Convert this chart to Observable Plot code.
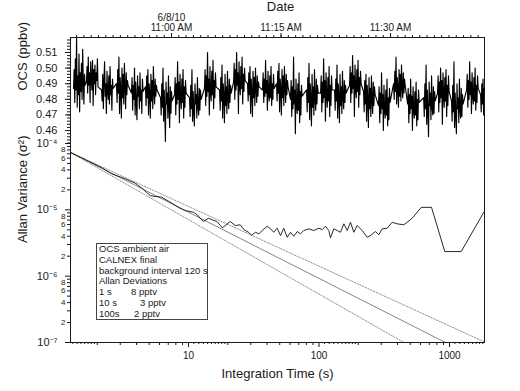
<!DOCTYPE html>
<html><head><meta charset="utf-8">
<script src="https://cdn.jsdelivr.net/npm/d3@7"></script>
<script src="https://cdn.jsdelivr.net/npm/@observablehq/plot@0.6"></script>
<style>
html,body{margin:0;padding:0;background:#fff;}
#wrap{position:relative;width:520px;height:391px;overflow:hidden;font-family:"Liberation Sans",Arial,Helvetica,sans-serif;}
#wrap svg{position:absolute;left:0;top:0;}
#legend{position:absolute;left:96px;top:243px;width:108px;height:75px;border:1px solid #444;background:#fff;color:#1a1a1a;font-size:9.5px;line-height:10.8px;padding:0 0 0 2px;white-space:nowrap;z-index:3;}
#legend span{display:inline-block;}
</style></head>
<body><div id="wrap"><div id="legend"></div></div>
<script>
// ---------- DATA ----------
// Top panel: OCS mixing ratio (pptv), blocks of ambient samples separated by background measurements
const timeRange = ["10:46:10", "11:42:52"];
const timeTickLabels = ["11:00", "11:15", "11:30"];
const dateLabel = "6/8/10";
const sampleSeconds = 5;
const blockStarts = ["10:46:35","10:48:21","10:50:25","10:52:28","10:54:31","10:56:26","10:58:30","11:00:25","11:02:28","11:04:31","11:06:35","11:08:30","11:10:25","11:12:28","11:14:23","11:16:18","11:18:30","11:20:25","11:22:20","11:24:23","11:26:18","11:28:21","11:30:25","11:32:20","11:34:32","11:36:26","11:38:21","11:40:25","11:42:20"];
const blockValues = [
 [487,499,478,506,486,520,475,495,483,509,472,497,485,503,480,512,491,477,496,489],
 [491,501,484,507,489,497,478,504,493,486,505,476,499,490,502,483,497,492,506,488],
 [486,479,496,474,492,504,482,490,471,498,485,480,495,477,501,483,489,473,493,487],
 [490,478,499,484,507,471,494,486,468,500,481,496,477,503,488,474,497,483,492,489],
 [484,494,473,489,480,500,470,491,478,467,495,482,488,474,497,479,486,471,493,485],
 [488,476,495,481,499,470,490,484,468,496,479,492,474,501,485,477,493,482,489,486],
 [481,470,490,475,500,466,486,472,453,491,477,484,468,495,474,462,488,471,485,479],
 [483,494,470,490,477,504,480,491,465,496,481,474,493,478,499,468,488,475,492,484],
 [481,469,489,474,499,466,485,472,463,490,477,483,468,494,475,470,487,473,486,480],
 [487,499,476,495,482,510,485,493,470,501,484,479,498,483,505,474,492,481,497,488],
 [486,473,494,479,502,468,490,482,465,496,476,488,471,498,480,474,493,478,489,484],
 [491,503,480,499,486,510,489,497,471,504,488,483,501,487,507,477,496,485,500,492],
 [490,479,497,483,501,471,493,485,469,498,481,494,476,500,486,478,495,482,491,488],
 [486,497,478,493,482,505,484,492,473,498,483,479,495,481,501,476,490,480,496,487],
 [490,479,498,484,503,472,493,486,470,499,481,495,476,501,487,478,496,483,492,488],
 [480,492,469,488,474,507,477,486,458,493,476,471,490,473,497,465,485,470,489,482],
 [486,472,494,478,503,467,490,481,463,496,475,488,470,499,480,473,493,477,489,484],
 [484,495,472,491,478,506,481,492,466,497,482,475,494,479,501,469,489,476,495,486],
 [486,473,493,479,502,468,490,482,465,496,476,488,471,498,481,474,492,478,489,484],
 [489,501,478,497,484,508,487,495,469,502,486,481,499,485,505,475,494,483,498,490],
 [485,472,492,477,496,466,489,480,462,494,474,487,469,495,479,471,491,476,488,483],
 [476,488,465,484,471,497,474,483,460,489,473,468,486,470,493,463,481,467,487,478],
 [490,480,498,485,507,477,494,487,475,499,482,496,479,502,488,481,497,484,493,489],
 [477,487,465,483,471,493,474,482,460,488,473,468,485,470,491,463,480,467,486,478],
 [481,469,490,474,502,464,486,472,456,491,476,484,467,495,475,470,488,471,485,479],
 [484,495,472,491,478,500,481,492,464,497,482,475,494,479,499,469,489,476,495,485],
 [479,466,489,472,504,462,484,470,458,490,474,481,465,493,473,468,487,469,483,477],
 [486,496,475,492,480,504,483,491,471,497,482,477,494,479,500,473,489,478,495,487],
 [483,472,490,477,493,470,487,479,468,491,475,485,473,489,480,478]
];
const ocsDomain = [0.4517, 0.5196];
const ocsTicks = [0.46, 0.47, 0.48, 0.49, 0.50, 0.51];

// Bottom panel: Allan variance (ppbv^2) vs integration time (s)
const tau = [1.25,1.71,2.17,2.58,3.27,3.91,4.39,5.09,5.56,6.24,7.03,8.38,9.44,10.9,11.6,13.0,14.2,16.5,18.2,20.9,22.8,24.9,26.7,28.8,30.5,32.6,34.6,36.7,40.1,42.5,45.0,47.8,50.7,53.7,57.0,60.5,64.1,68.1,72.2,76.5,83.5,91.2,99.7,105.8,112.2,118.9,122.5,129.9,137.9,146.2,155,164.5,174.3,184.8,196.2,214.3,234,248,271,287,305,333,364,397,447,518,607,728,920,1229,1832];
const allanVar = [7.32e-5,5.41e-5,4.30e-5,3.49e-5,2.94e-5,2.52e-5,2.12e-5,1.64e-5,1.59e-5,1.55e-5,1.35e-5,1.09e-5,9.76e-6,9.2e-6,8.49e-6,6.66e-6,7.47e-6,6.66e-6,5.35e-6,6.66e-6,5.80e-6,5.94e-6,4.99e-6,4.59e-6,4.15e-6,4.59e-6,4.35e-6,4.88e-6,5.66e-6,5.17e-6,4.59e-6,5.28e-6,4.10e-6,5.28e-6,3.86e-6,4.59e-6,4.00e-6,4.71e-6,4.35e-6,4.88e-6,5.17e-6,4.88e-6,5.28e-6,5.04e-6,5.66e-6,4.88e-6,3.78e-6,5.17e-6,4.88e-6,4.59e-6,6.15e-6,4.88e-6,6.50e-6,4.59e-6,5.80e-6,4.88e-6,3.86e-6,4.10e-6,4.71e-6,4.20e-6,5.17e-6,5.28e-6,6.50e-6,6.15e-6,5.94e-6,7.47e-6,1.09e-5,1.09e-5,2.35e-6,2.35e-6,9.2e-6];
const whiteNoiseTau = [1.25, 931];
const whiteNoiseVar = [7.32e-5, 1.0e-7];
const upperBoundTau = [1.25, 1832];
const upperBoundVar = [7.32e-5, 1.03e-7];
const lowerBoundTau = [1.25, 447];
const lowerBoundVar = [7.32e-5, 1.0e-7];
const tauDomain = [1.247, 1854];
const varDomain = [1e-7, 1e-4];
const tauMajorTicks = [10, 100, 1000];
const varMajorTicks = [1e-7, 1e-6, 1e-5, 1e-4];
const decadeMultipliersLabeled = [2, 4, 6, 8];
const decadeMultipliersPlain = [3, 5, 7, 9];

const axisTitles = {date: "Date", ocs: "OCS (ppbv)", allan: "Allan Variance (σ²)", tau: "Integration Time (s)"};
const legendLines = ["OCS ambient air", "CALNEX final", "background interval 120 s", "Allan Deviations"];
const legendRows = [["1 s", "8 pptv"], ["10 s", "3 pptv"], ["100s", "2 pptv"]];
const legendColWidths = [32, 41, 35];

// ---------- BUILD ----------
const FONT = '"Liberation Sans", Arial, Helvetica, sans-serif';
const parseClock = s => { const [h, m, sec] = s.split(":").map(Number); return new Date(2010, 5, 8, h, m, sec); };
const ocsData = blockStarts.flatMap((s, i) => {
  const t0 = +parseClock(s);
  return blockValues[i].map((v, k) => ({t: new Date(t0 + k * sampleSeconds * 1000), v: v / 1000}));
});
const timeDomain = timeRange.map(parseClock);
const majorTimes = timeTickLabels.map(s => parseClock(s + ":00"));
const minuteTicks = d3.timeMinute.range(timeDomain[0], timeDomain[1]);
const fmtTime = (d, i) => {
  const h = d.getHours(), m = d.getMinutes();
  const s = `${h % 12 || 12}:${String(m).padStart(2, "0")} ${h < 12 ? "AM" : "PM"}`;
  return i === 0 ? dateLabel + "\n" + s : s;
};
const minorOcs = d3.range(226, 260).map(i => +(i * 0.002).toFixed(3)).filter(v => v >= ocsDomain[0] && v <= ocsDomain[1]);

const sup = {"-": "⁻", "0": "⁰", "1": "¹", "2": "²", "3": "³", "4": "⁴", "5": "⁵", "6": "⁶", "7": "⁷", "8": "⁸", "9": "⁹"};
const fmtPow = d => "10" + String(Math.round(Math.log10(d))).split("").map(c => sup[c]).join("");
const inRange = (dom) => v => v >= dom[0] * 0.9999 && v <= dom[1] * 1.0001;
const varDecades = [1e-7, 1e-6, 1e-5];
const varMinorLab = varDecades.flatMap(d => decadeMultipliersLabeled.map(m => ({v: m * d, label: String(m)})));
const varMinorPlain = varDecades.flatMap(d => decadeMultipliersPlain.map(m => m * d));
const tauDecades = [1, 10, 100, 1000];
const tauMinor = tauDecades.flatMap(d => [2, 3, 4, 5, 6, 7, 8, 9].map(m => m * d)).filter(inRange(tauDomain));
const tauSub = tauDecades.flatMap(d => [1.1, 1.2, 1.3, 1.4, 1.5, 1.6, 1.7, 1.8, 1.9].map(m => m * d)).filter(inRange(tauDomain));

const allanData = tau.map((t, i) => ({t, v: allanVar[i]}));
const mk = (ts, vs) => ts.map((t, i) => ({t, v: vs[i]}));

const common = {width: 520, marginLeft: 70, marginRight: 36,
  style: {background: "transparent", overflow: "visible", fontFamily: FONT, color: "#1a1a1a"}};

const topPlot = Plot.plot({
  ...common, height: 143, marginTop: 37, marginBottom: 0,
  x: {type: "time", domain: timeDomain},
  y: {domain: ocsDomain},
  marks: [
    Plot.line(ocsData, {x: "t", y: "v", stroke: "#000", strokeWidth: 1.15, clip: true}),
    Plot.frame({anchor: "top"}), Plot.frame({anchor: "left"}), Plot.frame({anchor: "right"}),
    Plot.axisX({anchor: "top", ticks: minuteTicks, tickSize: 3, tickFormat: () => "", label: null}),
    Plot.axisX({anchor: "top", ticks: majorTimes, tickSize: 5, tickPadding: 2, fontSize: 10, tickFormat: fmtTime, label: null}),
    Plot.axisY({ticks: minorOcs, tickSize: 3, tickFormat: () => "", label: null}),
    Plot.axisY({ticks: ocsTicks, tickSize: 5, tickPadding: 8, fontSize: 11, tickFormat: d3.format(".2f"), label: null}),
    Plot.text([axisTitles.date], {text: d => d, frameAnchor: "top", lineAnchor: "middle", dy: -31, dx: 3, fontSize: 13}),
    Plot.text([axisTitles.ocs], {text: d => d, frameAnchor: "left", dx: -48, rotate: -90, fontSize: 13})
  ]
});

const bottomPlot = Plot.plot({
  ...common, height: 391, marginTop: 143, marginBottom: 49,
  x: {type: "log", domain: tauDomain},
  y: {type: "log", domain: varDomain},
  marks: [
    Plot.line(mk(whiteNoiseTau, whiteNoiseVar), {x: "t", y: "v", stroke: "#666", strokeWidth: 0.8, clip: true}),
    Plot.line(mk(upperBoundTau, upperBoundVar), {x: "t", y: "v", stroke: "#777", strokeWidth: 0.8, strokeDasharray: "1.5,1.5", clip: true}),
    Plot.line(mk(lowerBoundTau, lowerBoundVar), {x: "t", y: "v", stroke: "#777", strokeWidth: 0.8, strokeDasharray: "1.5,1.5", clip: true}),
    Plot.line(allanData, {x: "t", y: "v", stroke: "#111", strokeWidth: 0.9, clip: true}),
    Plot.frame({anchor: "bottom"}), Plot.frame({anchor: "left"}), Plot.frame({anchor: "right"}),
    Plot.axisX({ticks: tauSub, tickSize: 2, tickFormat: () => "", label: null}),
    Plot.axisX({ticks: tauMinor, tickSize: 3, tickFormat: () => "", label: null}),
    Plot.axisX({ticks: tauMajorTicks, tickSize: 5, tickPadding: 4, fontSize: 10, tickFormat: d => String(d), label: null}),
    Plot.axisY({ticks: varMinorPlain, tickSize: 3, tickFormat: () => "", label: null}),
    Plot.axisY({ticks: varMinorLab.map(d => d.v), tickSize: 3, tickFormat: () => "", label: null}),
    Plot.text(varMinorLab, {y: "v", text: "label", frameAnchor: "left", textAnchor: "end", dx: -5, fontSize: 8}),
    Plot.axisY({ticks: varMajorTicks, tickSize: 5, tickPadding: 8, fontSize: 11, tickFormat: fmtPow, label: null}),
    Plot.text([axisTitles.tau], {text: d => d, frameAnchor: "bottom", lineAnchor: "middle", dy: 31, fontSize: 13}),
    Plot.text([axisTitles.allan], {text: d => d, frameAnchor: "left", dx: -48, rotate: -90, fontSize: 13})
  ]
});

const wrap = document.getElementById("wrap");
wrap.insertBefore(bottomPlot, wrap.firstChild);
wrap.insertBefore(topPlot, bottomPlot.nextSibling);

const legend = document.getElementById("legend");
legendLines.forEach(s => { const d = document.createElement("div"); d.textContent = s; legend.appendChild(d); });
legendRows.forEach((r, i) => {
  const d = document.createElement("div");
  const a = document.createElement("span"); a.style.width = legendColWidths[i] + "px"; a.textContent = r[0];
  const b = document.createElement("span"); b.textContent = r[1];
  d.appendChild(a); d.appendChild(b); legend.appendChild(d);
});
</script></body></html>
